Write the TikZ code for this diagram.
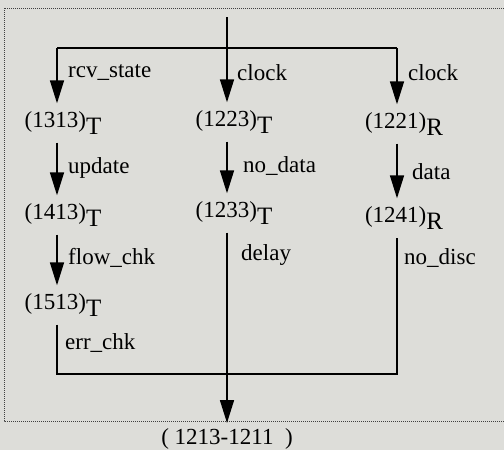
\documentclass[tikz,border=0pt]{standalone}
\usepackage{fontspec}
\setmainfont{Liberation Serif}
\usetikzlibrary{arrows.meta}
\definecolor{paper}{RGB}{221,221,217}
\newcommand{\stlabel}[2]{\fontsize{23}{28}\selectfont(#1)\raisebox{-7pt}{\fontsize{25}{28}\selectfont#2}}
\tikzset{
  state/.style={inner xsep=0pt,inner ysep=8pt},
  lbl/.style={anchor=west,inner sep=0pt},
  flow/.style={line width=1.6pt},
  arr/.style={flow,-{Triangle[length=23pt,width=14pt]}}
}
\begin{document}
\begin{tikzpicture}[x=1pt,y=-1pt,font=\fontsize{23}{27}\selectfont]
\fill[paper] (0,0) rectangle (504,450);
\useasboundingbox (0,0) rectangle (504,450);
\draw[densely dotted,line width=1pt,black!75] (4,8) rectangle (520,421);
\coordinate (c1) at (57,0);
\coordinate (c2) at (227,0);
\coordinate (c3) at (397,0);
\coordinate (in) at (227,17);
\coordinate (fork) at (227,48);
\coordinate (join) at (227,374);
\node[state] (s1313) at (63,123) {\stlabel{1313}{T}};
\node[state] (s1223) at (234,122) {\stlabel{1223}{T}};
\node[state] (s1221) at (404,124) {\stlabel{1221}{R}};
\node[state] (s1413) at (63,215) {\stlabel{1413}{T}};
\node[state] (s1233) at (234,213) {\stlabel{1233}{T}};
\node[state] (s1241) at (404,218) {\stlabel{1241}{R}};
\node[state] (s1513) at (63,305) {\stlabel{1513}{T}};
\node[anchor=north,inner ysep=5pt] (out) at (227,423) {( 1213-1211~ )};
\node[lbl] (l1) at (68,73) {rcv\_state};
\node[lbl] (l2) at (237,73) {clock};
\node[lbl] (l3) at (408,73) {clock};
\node[lbl] (l4) at (68,168) {update};
\node[lbl] (l5) at (243,166) {no\_data};
\node[lbl] (l6) at (412,172) {data};
\node[lbl] (l7) at (68,258) {flow\_chk};
\node[lbl] (l8) at (241,255) {delay};
\node[lbl] (l9) at (404,258) {no\_disc};
\node[lbl] (l10) at (65,343) {err\_chk};
\draw[flow] (in) -- (fork);
\draw[flow] (fork -| c1) -- (fork -| c3);
\draw[arr] (fork -| c1) -- (s1313.north -| c1);
\draw[arr] (fork) -- (s1223.north -| c2);
\draw[arr] (fork -| c3) -- (s1221.north -| c3);
\draw[arr] (s1313.south -| c1) -- (s1413.north -| c1);
\draw[arr] (s1223.south -| c2) -- (s1233.north -| c2);
\draw[arr] (s1221.south -| c3) -- (s1241.north -| c3);
\draw[arr] (s1413.south -| c1) -- (s1513.north -| c1);
\draw[flow] (s1513.south -| c1) |- (join -| c3) -- (s1241.south -| c3);
\draw[arr] (s1233.south -| c2) -- (out.north -| c2);
\end{tikzpicture}
\end{document}
